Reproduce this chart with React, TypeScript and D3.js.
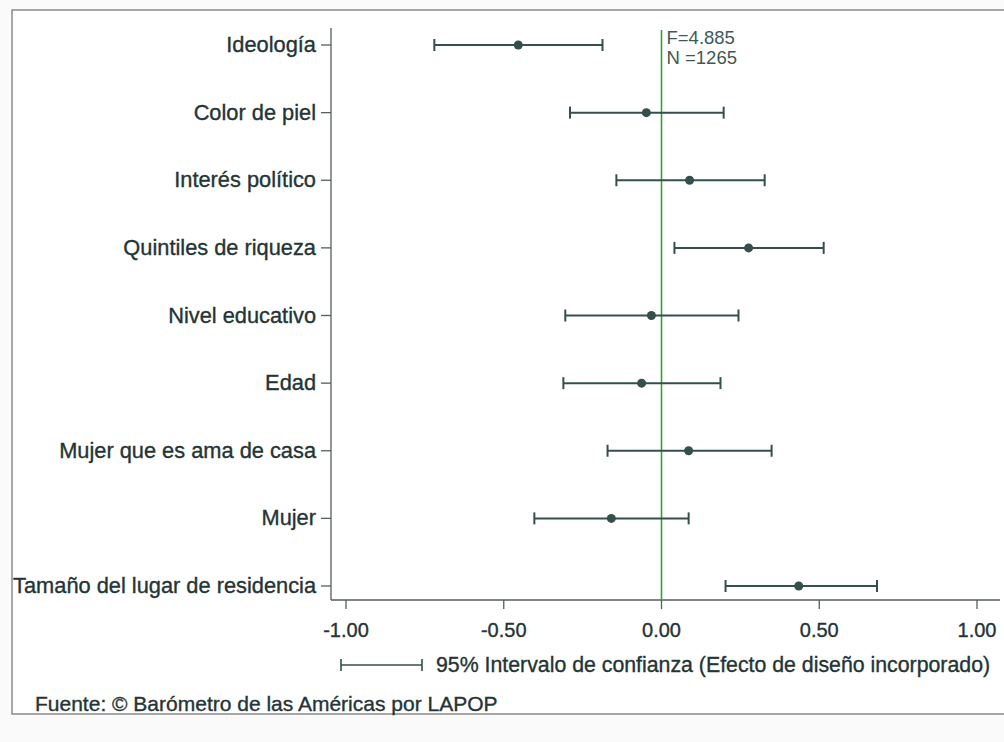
import React from "react";
import * as d3 from "d3";

const categories = [
  "Ideología",
  "Color de piel",
  "Interés político",
  "Quintiles de riqueza",
  "Nivel educativo",
  "Edad",
  "Mujer que es ama de casa",
  "Mujer",
  "Tamaño del lugar de residencia",
];
const estimates = [-0.454, -0.048, 0.089, 0.276, -0.032, -0.063, 0.086, -0.159, 0.435];
const lowerCI = [-0.72, -0.29, -0.143, 0.041, -0.305, -0.311, -0.171, -0.403, 0.203];
const upperCI = [-0.187, 0.197, 0.327, 0.514, 0.244, 0.187, 0.349, 0.086, 0.683];
const xTicks = [-1, -0.5, 0, 0.5, 1];
const statF = "F=4.885";
const statN = "N =1265";
const legendText = "95% Intervalo de confianza (Efecto de diseño incorporado)";
const sourceText = "Fuente: © Barómetro de las Américas por LAPOP";

const W = 1004;
const H = 742;
const FONT = "'Liberation Sans', Arial, sans-serif";
const TEXT = "#253434";
const MARK = "#344f4c";
const AXIS = "#555d5d";
const GREEN = "#35a035";

export default function App() {
  const axisX = 331;
  const axisY = 600;
  const x = d3.scaleLinear().domain([-1, 1]).range([346, 977]);
  const y = d3.scalePoint<string>().domain(categories).range([45, 586]);
  const fmt = (v: number) => d3.format(".2f")(v).replace("\u2212", "-");
  const bold = { stroke: TEXT, strokeWidth: 0.35 };

  return (
    <svg
      width={W}
      height={H}
      style={{ position: "absolute", left: 0, top: 0, background: "#fafafa" }}
      fontFamily={FONT}
    >
      <rect x={0} y={0} width={W} height={H} fill="#fafafa" />
      {/* outer frame */}
      <rect x={12} y={10} width={1010} height={704} fill="#ffffff" stroke="#8a8a8a" strokeWidth={1.5} />

      {/* axes */}
      <line x1={axisX} y1={28} x2={axisX} y2={axisY} stroke={AXIS} strokeWidth={1.3} />
      <line x1={axisX} y1={axisY} x2={1000} y2={axisY} stroke={AXIS} strokeWidth={1.3} />

      {/* x ticks */}
      {xTicks.map((t) => (
        <g key={t}>
          <line x1={x(t)} x2={x(t)} y1={axisY} y2={axisY + 9} stroke={AXIS} strokeWidth={1.3} />
          <text x={x(t)} y={637} textAnchor="middle" fontSize={20} fill={TEXT} {...bold}>
            {fmt(t)}
          </text>
        </g>
      ))}

      {/* y ticks and labels */}
      {categories.map((c) => (
        <g key={c}>
          <line x1={axisX - 10} x2={axisX} y1={y(c)} y2={y(c)} stroke={AXIS} strokeWidth={1.3} />
          <text x={316} y={(y(c) as number) + 7} textAnchor="end" fontSize={21.8} fill={TEXT} {...bold}>
            {c}
          </text>
        </g>
      ))}

      {/* zero reference line */}
      <line x1={x(0)} x2={x(0)} y1={30} y2={axisY} stroke={GREEN} strokeWidth={1.6} />
      <text x={x(0) + 5} y={44} fontSize={18.5} fill="#3f5a55">
        {statF}
      </text>
      <text x={x(0) + 5} y={64} fontSize={18.5} fill="#3f5a55">
        {statN}
      </text>

      {/* error bars */}
      {categories.map((c, i) => {
        const yy = y(c) as number;
        return (
          <g key={"e" + c}>
            <line x1={x(lowerCI[i])} x2={x(upperCI[i])} y1={yy} y2={yy} stroke={MARK} strokeWidth={2} />
            <line x1={x(lowerCI[i])} x2={x(lowerCI[i])} y1={yy - 6} y2={yy + 6} stroke={MARK} strokeWidth={2} />
            <line x1={x(upperCI[i])} x2={x(upperCI[i])} y1={yy - 6} y2={yy + 6} stroke={MARK} strokeWidth={2} />
            <circle cx={x(estimates[i])} cy={yy} r={4.5} fill={MARK} />
          </g>
        );
      })}

      {/* legend */}
      <line x1={341} x2={422} y1={665} y2={665} stroke={MARK} strokeWidth={1.6} />
      <line x1={341} x2={341} y1={659} y2={671} stroke={MARK} strokeWidth={1.6} />
      <line x1={422} x2={422} y1={659} y2={671} stroke={MARK} strokeWidth={1.6} />
      <text x={436} y={672} fontSize={21.3} fill={TEXT} {...bold}>
        {legendText}
      </text>

      {/* source */}
      <text x={35} y={711} fontSize={21} fill={TEXT} {...bold}>
        {sourceText}
      </text>
    </svg>
  );
}
